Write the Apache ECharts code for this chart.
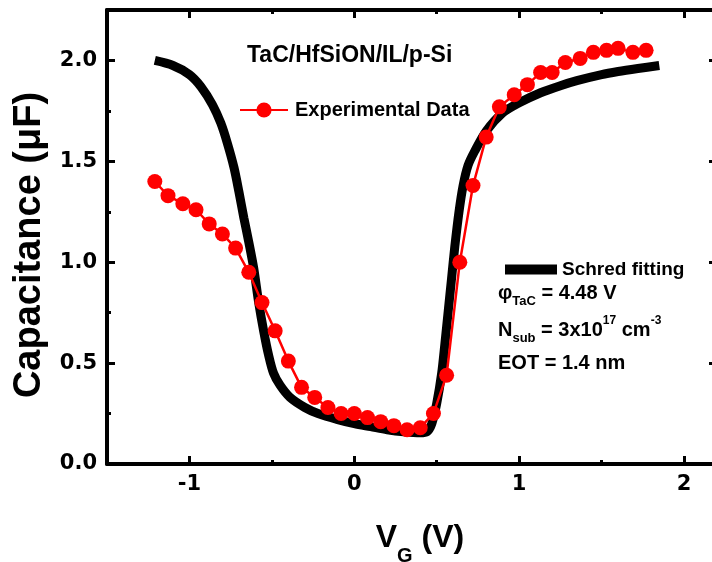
<!DOCTYPE html>
<html>
<head>
<meta charset="utf-8">
<script src="https://cdn.jsdelivr.net/npm/echarts@6/dist/echarts.min.js"></script>
<style>html,body{margin:0;padding:0;background:#fff;}#c{width:712px;height:562px;}</style>
</head>
<body>
<div id="c"></div>
<script>
// Experimental data (red circles)
var expV = [-1.21,-1.13,-1.04,-0.96,-0.88,-0.80,-0.72,-0.64,-0.56,-0.48,-0.40,-0.32,-0.24,-0.16,-0.08,0.00,0.08,0.16,0.24,0.32,0.40,0.48,0.56,0.64,0.72,0.80,0.88,0.97,1.05,1.13,1.20,1.28,1.37,1.45,1.53,1.60,1.69,1.77];
var expC = [1.40,1.33,1.29,1.26,1.19,1.14,1.07,0.95,0.80,0.66,0.51,0.38,0.33,0.28,0.25,0.25,0.23,0.21,0.19,0.17,0.18,0.25,0.44,1.00,1.38,1.62,1.77,1.83,1.88,1.94,1.94,1.99,2.01,2.04,2.05,2.06,2.04,2.05];
// Schred fitting curve (thick black)
var fitV = [-1.21,-1.10,-1.00,-0.93,-0.86,-0.81,-0.77,-0.73,-0.70,-0.67,-0.64,-0.61,-0.58,-0.55,-0.52,-0.49,-0.45,-0.39,-0.30,-0.22,-0.10,0.00,0.10,0.20,0.30,0.40,0.44,0.47,0.50,0.53,0.55,0.57,0.59,0.61,0.635,0.66,0.69,0.73,0.80,0.90,1.00,1.13,1.25,1.35,1.50,1.60,1.72,1.85];
var fitC = [2.00,1.975,1.93,1.87,1.78,1.69,1.59,1.47,1.35,1.22,1.10,0.97,0.80,0.66,0.54,0.45,0.39,0.33,0.28,0.25,0.22,0.20,0.185,0.17,0.16,0.155,0.16,0.20,0.30,0.45,0.60,0.76,0.92,1.08,1.25,1.38,1.48,1.55,1.65,1.74,1.79,1.84,1.875,1.90,1.93,1.945,1.96,1.975];
// Axis ticks
var xMajor = [-1,0,1,2];
var xMinor = [-0.5,0.5,1.5];
var yMajor = [0,0.5,1.0,1.5,2.0];
var yMinor = [0.25,0.75,1.25,1.75];

function zip(a,b){var r=[];for(var i=0;i<a.length;i++)r.push([a[i],b[i]]);return r;}

var LAB = {fontFamily:'DejaVu Sans', fontWeight:'bold', fontSize:21, color:'#000'};
var AF = 'Liberation Sans';
function xAx(pos, ticks, len, showLine, labels, extra){
  var o = {type:'value', position:pos, min:-1.5, max:2.2,
    axisLine:{show:showLine, onZero:false, lineStyle:{color:'#000', width:4}},
    axisTick:{show:true, inside:true, length:len, customValues:ticks, lineStyle:{color:'#000', width:3}},
    axisLabel: labels ? Object.assign({customValues:ticks, margin:10}, LAB) : {show:false},
    splitLine:{show:false}};
  return Object.assign(o, extra||{});
}
function yAx(pos, ticks, len, showLine, labels, extra){
  var o = {type:'value', position:pos, min:0, max:2.25,
    axisLine:{show:showLine, onZero:false, lineStyle:{color:'#000', width:4}},
    axisTick:{show:true, inside:true, length:len, customValues:ticks, lineStyle:{color:'#000', width:3}},
    axisLabel: labels ? Object.assign({customValues:ticks, margin:10, formatter:function(v){return v.toFixed(1);}}, LAB) : {show:false},
    splitLine:{show:false}};
  return Object.assign(o, extra||{});
}

var chart = echarts.init(document.getElementById('c'), null, {renderer:'canvas'});
chart.setOption({
  backgroundColor:'#fff',
  animation:false,
  grid:{left:107, top:10, right:-5, bottom:98, containLabel:false, outerBoundsMode:'none'},
  xAxis:[
    xAx('bottom', xMajor, 8, true, true, {
      name:'{v|V}{g|G}{v| (V)}', nameLocation:'middle', nameGap:58,
      nameTextStyle:{padding:[0,0,0,16], rich:{
        v:{fontFamily:AF, fontWeight:'bold', fontSize:32, color:'#000', lineHeight:44, verticalAlign:'top'},
        g:{fontFamily:AF, fontWeight:'bold', fontSize:20, color:'#000', lineHeight:22, verticalAlign:'bottom'}}}
    }),
    xAx('bottom', xMinor, 4, false, false),
    xAx('top', xMajor, 8, true, false),
    xAx('top', xMinor, 4, false, false)
  ],
  yAxis:[
    yAx('left', yMajor, 8, true, true, {
      name:'Capacitance (μF)', nameLocation:'middle', nameGap:56,
      nameTextStyle:{fontFamily:AF, fontWeight:'bold', fontSize:38, color:'#000', padding:[0,16,0,0]}
    }),
    yAx('left', yMinor, 4, false, false),
    yAx('right', yMajor, 8, true, false),
    yAx('right', yMinor, 4, false, false)
  ],
  legend:[
    {data:['Experimental Data'], left:239, top:100, padding:0, itemWidth:48, itemHeight:19, itemGap:0, selectedMode:false,
     textStyle:{fontFamily:AF, fontWeight:'bold', fontSize:20, color:'#000', padding:[0,0,0,2]}},
    {data:[{name:'Schred fitting', icon:'rect'}], left:505, top:260, padding:0, itemWidth:52, itemHeight:10, itemGap:0, selectedMode:false,
     textStyle:{fontFamily:AF, fontWeight:'bold', fontSize:19, color:'#000'}}
  ],
  graphic:[
    {type:'text', x:247, y:56, style:{text:'TaC/HfSiON/IL/p-Si', font:'bold 23px "Liberation Sans"', fill:'#000', align:'left', verticalAlign:'middle'}},
    {type:'text', x:498, y:293, style:{text:'{m|φ}{s|TaC}{m| = 4.48 V}', fill:'#000', align:'left', verticalAlign:'middle',
      rich:{m:{fontFamily:AF, fontWeight:'bold', fontSize:20, lineHeight:30, fill:'#000'},
            s:{fontFamily:AF, fontWeight:'bold', fontSize:13, lineHeight:12, verticalAlign:'bottom', fill:'#000'}}}},
    {type:'text', x:498, y:330, style:{text:'{m|N}{s|sub}{m| = 3x10}{p|17}{m| cm}{p|-3}', fill:'#000', align:'left', verticalAlign:'middle',
      rich:{m:{fontFamily:AF, fontWeight:'bold', fontSize:20, lineHeight:30, fill:'#000'},
            s:{fontFamily:AF, fontWeight:'bold', fontSize:13, lineHeight:12, verticalAlign:'bottom', fill:'#000'},
            p:{fontFamily:AF, fontWeight:'bold', fontSize:12, lineHeight:20, verticalAlign:'top', fill:'#000'}}}},
    {type:'text', x:498, y:363, style:{text:'EOT = 1.4 nm', font:'bold 20px "Liberation Sans"', fill:'#000', align:'left', verticalAlign:'middle'}}
  ],
  series:[
    {name:'Schred fitting', type:'line', data:zip(fitV, fitC), smooth:0.3, showSymbol:false, symbol:'none',
     lineStyle:{color:'#000', width:9}, itemStyle:{color:'#000'}, z:2},
    {name:'Experimental Data', type:'line', data:zip(expV, expC), symbol:'circle', symbolSize:15,
     lineStyle:{color:'#ff0000', width:2.5}, itemStyle:{color:'#ff0000'}, z:3}
  ]
});
</script>
</body>
</html>
